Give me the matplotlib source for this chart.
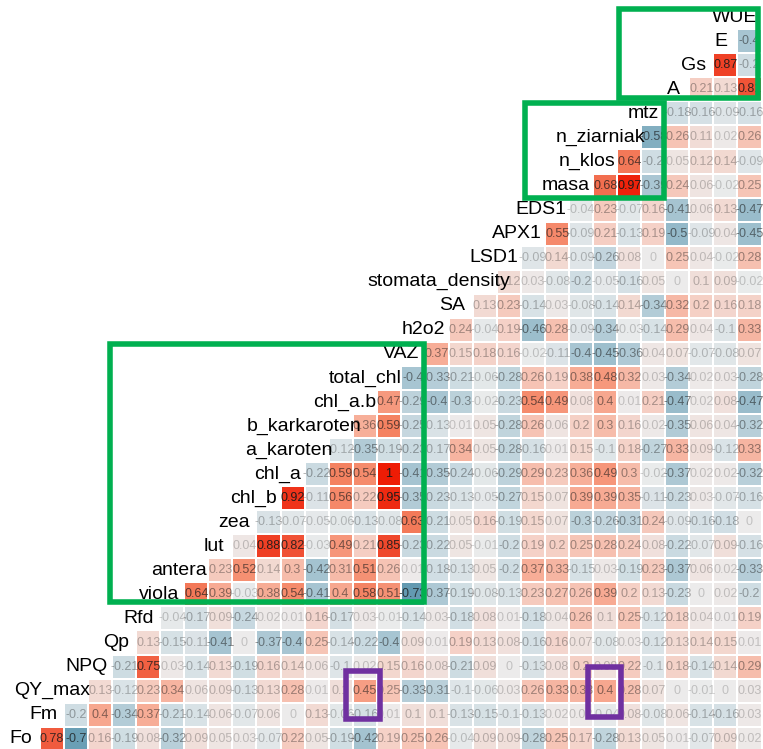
import matplotlib
matplotlib.use("Agg")
import matplotlib.pyplot as plt
import numpy as np
from matplotlib.colors import LinearSegmentedColormap
from matplotlib.patches import Rectangle

# variables, bottom-left to top-right (label sits on the diagonal)
variables = ["Fo", "Fm", "QY_max", "NPQ", "Qp", "Rfd", "viola", "antera", "lut",
             "zea", "chl_b", "chl_a", "a_karoten", "b_karkaroten", "chl_a.b",
             "total_chl", "VAZ", "h2o2", "SA", "stomata_density", "LSD1", "APX1",
             "EDS1", "masa", "n_klos", "n_ziarniak", "mtz", "A", "Gs", "E", "WUE"]

# correlations of each variable with the ones after it in the list
r_Fo = [0.78, -0.7, 0.16, -0.19, 0.08, -0.32, 0.09, 0.05, 0.03, -0.07, 0.22, 0.05,
        -0.19, -0.42, 0.19, 0.25, 0.26, -0.04, 0.09, 0.09, -0.28, 0.25, 0.17, -0.28,
        0.13, 0.05, 0.01, -0.07, 0.09, 0.02]
r_Fm = [-0.2, 0.4, -0.34, 0.37, -0.21, -0.14, 0.06, -0.07, 0.06, 0, 0.13, -0.06,
        -0.16, 0.01, 0.1, 0.1, -0.13, -0.15, -0.1, -0.13, 0.02, 0.02, -0.04, 0.08,
        -0.08, 0.06, -0.14, -0.16, 0.03]
r_QY_max = [0.13, -0.12, 0.23, 0.34, 0.06, 0.09, -0.13, 0.13, 0.28, 0.01, 0.1, 0.45,
            0.25, -0.33, -0.31, -0.1, -0.06, 0.03, 0.26, 0.33, 0.33, 0.4, 0.28, 0.07,
            0, -0.01, 0, 0.03]
r_NPQ = [-0.21, 0.75, 0.03, -0.14, 0.13, -0.19, 0.16, 0.14, 0.06, -0.1, 0.02, 0.15,
         0.16, 0.08, -0.21, 0.09, 0, -0.13, 0.08, 0.2, 0.08, 0.22, -0.1, 0.18, -0.14,
         0.14, 0.29]
r_Qp = [0.13, -0.15, -0.11, -0.41, 0, -0.37, -0.4, 0.25, -0.14, -0.22, -0.4, 0.09,
        0.01, 0.19, 0.13, 0.08, -0.16, 0.16, 0.07, -0.08, 0.03, -0.12, 0.13, 0.14,
        0.15, 0.01]
r_Rfd = [-0.04, -0.17, 0.09, -0.24, 0.02, 0.01, 0.16, -0.17, 0.03, -0.01, -0.14, 0.03,
         -0.18, 0.08, 0.01, -0.18, 0.04, 0.26, 0.1, 0.25, -0.12, 0.18, 0.04, 0.01, 0.19]
r_viola = [0.64, 0.39, -0.03, 0.38, 0.54, -0.41, 0.4, 0.58, 0.51, -0.73, -0.37, -0.19,
           -0.08, -0.13, 0.23, 0.27, 0.26, 0.39, 0.2, 0.13, -0.23, 0, 0.02, -0.2]
r_antera = [0.23, 0.52, 0.14, 0.3, -0.42, 0.31, 0.51, 0.26, 0.01, -0.18, -0.13, 0.05,
            -0.2, 0.37, 0.33, -0.15, 0.03, -0.19, 0.23, -0.37, 0.06, 0.02, -0.33]
r_lut = [0.04, 0.88, 0.82, -0.03, 0.49, 0.21, 0.85, -0.23, -0.22, 0.05, -0.01, -0.2,
         0.19, 0.2, 0.25, 0.28, 0.24, 0.08, -0.22, -0.07, 0.09, -0.16]
r_zea = [-0.13, -0.07, -0.05, -0.06, -0.13, -0.08, 0.63, -0.21, 0.05, 0.16, -0.19,
         0.15, 0.07, -0.3, -0.26, -0.31, 0.24, -0.09, -0.16, -0.18, 0]
r_chl_b = [0.92, -0.11, 0.56, 0.22, 0.95, -0.35, -0.23, -0.13, -0.05, -0.27, 0.15,
           0.07, 0.39, 0.39, 0.35, -0.11, -0.23, 0.03, -0.07, -0.16]
r_chl_a = [-0.22, 0.59, 0.54, 1, -0.41, -0.35, -0.24, -0.06, -0.29, 0.29, 0.23, 0.36,
           0.49, 0.3, -0.02, -0.37, 0.02, 0.02, -0.32]
r_a_karoten = [-0.12, -0.35, -0.19, -0.23, -0.17, 0.34, 0.05, -0.28, -0.16, 0.01,
               0.15, -0.1, 0.18, -0.27, 0.33, 0.09, -0.12, 0.33]
r_b_karkaroten = [0.36, 0.59, -0.25, -0.13, 0.01, 0.05, -0.28, 0.26, 0.06, 0.2, 0.3,
                  0.16, 0.02, -0.35, 0.06, 0.04, -0.32]
r_chl_ab = [0.47, -0.29, -0.4, -0.3, -0.02, -0.23, 0.54, 0.49, 0.08, 0.4, 0.01, 0.21,
            -0.47, 0.02, 0.08, -0.47]
r_total_chl = [-0.4, -0.33, -0.21, -0.06, -0.28, 0.26, 0.19, 0.38, 0.48, 0.32, 0.03,
               -0.34, 0.02, 0.03, -0.28]
r_VAZ = [0.37, 0.15, 0.18, 0.16, -0.02, -0.11, -0.4, -0.45, -0.36, 0.04, 0.07, -0.07,
         -0.08, 0.07]
r_h2o2 = [0.24, -0.04, 0.19, -0.46, 0.28, -0.09, -0.34, -0.03, -0.14, 0.29, 0.04,
          -0.1, 0.33]
r_SA = [0.13, 0.23, -0.14, 0.03, -0.08, -0.14, 0.14, -0.34, 0.32, 0.2, 0.16, 0.18]
r_stomata_density = [0.12, 0.03, -0.08, -0.2, -0.05, -0.16, 0.05, 0, 0.1, 0.09, -0.02]
r_LSD1 = [-0.09, 0.14, -0.09, -0.26, 0.08, 0, 0.25, 0.04, -0.02, 0.28]
r_APX1 = [0.55, -0.09, 0.21, -0.13, 0.19, -0.5, -0.09, 0.04, -0.45]
r_EDS1 = [-0.04, 0.23, -0.07, 0.16, -0.41, 0.06, 0.13, -0.47]
r_masa = [0.68, 0.97, -0.39, 0.24, 0.06, -0.02, 0.25]
r_n_klos = [0.64, -0.2, 0.05, 0.12, 0.14, -0.09]
r_n_ziarniak = [-0.58, 0.26, 0.11, 0.02, 0.26]
r_mtz = [-0.18, -0.16, -0.09, -0.16]
r_A = [0.21, 0.13, 0.81]
r_Gs = [0.87, -0.2]
r_E = [-0.4]

rows = [r_Fo, r_Fm, r_QY_max, r_NPQ, r_Qp, r_Rfd, r_viola, r_antera, r_lut, r_zea,
        r_chl_b, r_chl_a, r_a_karoten, r_b_karkaroten, r_chl_ab, r_total_chl, r_VAZ,
        r_h2o2, r_SA, r_stomata_density, r_LSD1, r_APX1, r_EDS1, r_masa, r_n_klos,
        r_n_ziarniak, r_mtz, r_A, r_Gs, r_E]

# highlight boxes (cell units: x0, y0, x1, y1)
GREEN_BOXES = [(24.57, 26.66, 30.35, 30.33),
               (20.65, 22.48, 26.45, 26.45),
               (3.43, 5.70, 16.47, 16.43)]
PURPLE_BOXES = [(13.24, 0.83, 14.62, 2.81),
                (23.28, 0.92, 24.64, 2.99)]

W, H, DPI = 763, 749, 100
CELL = 24.05      # px per cell
X0_PX = 28.0      # px position of column 0 centre
Y0_PX = 10.3      # px (from bottom) of row 0 centre

n = len(variables)
corr = np.full((n, n), np.nan)
for i, vals in enumerate(rows):
    corr[i, i + 1:] = vals
corr_m = np.ma.masked_invalid(corr)

cmap = LinearSegmentedColormap.from_list("corr", [
    (0.00, "#2e7394"), (0.15, "#6a9fb5"), (0.30, "#a8c5d2"), (0.40, "#cfdde3"),
    (0.50, "#ececec"), (0.60, "#f5d0c5"), (0.70, "#f7a890"), (0.80, "#f4805f"),
    (0.90, "#f0573a"), (1.00, "#ee1c05")])

fig = plt.figure(figsize=(W / DPI, H / DPI), dpi=DPI)
ax = fig.add_axes([0, 0, 1, 1])
ax.set_xlim(-X0_PX / CELL, (W - X0_PX) / CELL)
ax.set_ylim(-Y0_PX / CELL, (H - Y0_PX) / CELL)
ax.axis("off")

edges = np.arange(n + 1) - 0.5
ax.pcolormesh(edges, edges, corr_m, cmap=cmap, vmin=-1, vmax=1,
              edgecolors="white", linewidth=1.2)

for i in range(n):
    for j in range(i + 1, n):
        v = corr[i, j]
        txt = "%g" % round(v, 2)
        alpha = min(1.0, 0.2 + 0.8 * abs(v))
        ax.text(j, i, txt, ha="center", va="center", fontsize=9,
                family="Liberation Sans", color=(0.1, 0.1, 0.1, alpha))

labels = []
for k, name in enumerate(variables):
    labels.append(ax.text(k, k, name, ha="right", va="center", fontsize=14,
                          family="Liberation Sans", color="black", zorder=5))
fig.canvas.draw()
renderer = fig.canvas.get_renderer()
for k, t in enumerate(labels):
    w_px = t.get_window_extent(renderer).width
    t.set_x(k + 0.18 * w_px / CELL)

for (x0, y0, x1, y1) in GREEN_BOXES:
    ax.add_patch(Rectangle((x0, y0), x1 - x0, y1 - y0, fill=False,
                           edgecolor="#00b050", linewidth=4, zorder=6))
for (x0, y0, x1, y1) in PURPLE_BOXES:
    ax.add_patch(Rectangle((x0, y0), x1 - x0, y1 - y0, fill=False,
                           edgecolor="#7030a0", linewidth=4, zorder=6))

fig.savefig("out.png", dpi=DPI)
